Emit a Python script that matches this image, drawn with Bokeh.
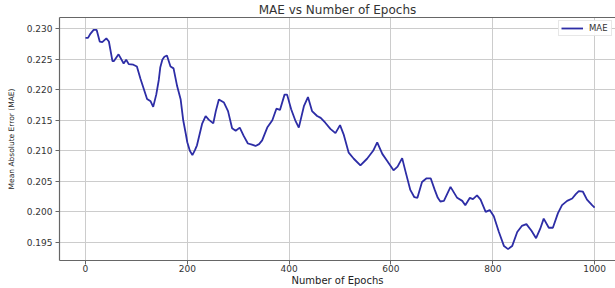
from bokeh.plotting import figure
from bokeh.models import (Range1d, FixedTicker, NumeralTickFormatter,
                          Legend, LegendItem, LinearAxis)
from bokeh.embed import file_html
from bokeh.resources import INLINE

# --- data ---
epochs = [0, 5, 10, 16, 22, 28, 33, 41, 46, 53, 56, 65, 75, 80, 85, 94, 101, 108,
          121, 128, 133, 139, 144, 147, 151, 155, 160, 167, 173, 180, 187, 192, 197,
          200, 205, 210, 215, 219, 229, 236, 242, 251, 256, 262, 272, 280, 288, 295,
          303, 311, 319, 327, 334, 341, 347, 357, 367, 375, 382, 391, 396, 404, 412,
          419, 429, 437, 445, 455, 462, 471, 481, 491, 500, 507, 517, 527, 540, 553,
          565, 573, 583, 592, 605, 613, 622, 628, 638, 646, 652, 661, 670, 678, 686,
          692, 697, 704, 717, 730, 740, 746, 755, 761, 769, 776, 786, 794, 802, 812,
          822, 830, 838, 848, 857, 866, 876, 885, 893, 900, 910, 918, 928, 936, 946,
          956, 963, 969, 977, 985, 995, 1000]
mae = [0.2285, 0.2285, 0.2292, 0.2298, 0.2298, 0.2279, 0.2278, 0.2284, 0.2279, 0.2247,
       0.2247, 0.2258, 0.2243, 0.2249, 0.2242, 0.2241, 0.2238, 0.2218, 0.2185, 0.2181,
       0.2172, 0.2192, 0.2216, 0.2237, 0.2249, 0.2254, 0.2256, 0.2238, 0.2235, 0.2206,
       0.2184, 0.2150, 0.2128, 0.2114, 0.2100, 0.2093, 0.2101, 0.2109, 0.2144, 0.2157,
       0.2151, 0.2145, 0.2165, 0.2184, 0.2179, 0.2165, 0.2137, 0.2133, 0.2138, 0.2124,
       0.2112, 0.2110, 0.2108, 0.2111, 0.2117, 0.2138, 0.2150, 0.2169, 0.2167, 0.2192,
       0.2192, 0.2168, 0.2150, 0.2138, 0.2173, 0.2188, 0.2165, 0.2157, 0.2154, 0.2146,
       0.2136, 0.2129, 0.2142, 0.2127, 0.2097, 0.2087, 0.2076, 0.2087, 0.2100, 0.2114,
       0.2095, 0.2084, 0.2068, 0.2074, 0.2088, 0.2068, 0.2036, 0.2024, 0.2023, 0.2049,
       0.2055, 0.2055, 0.2036, 0.2023, 0.2017, 0.2018, 0.2041, 0.2023, 0.2018, 0.2011,
       0.2023, 0.2021, 0.2027, 0.2020, 0.2000, 0.2003, 0.1993, 0.1967, 0.1944, 0.1939,
       0.1944, 0.1967, 0.1977, 0.1980, 0.1969, 0.1957, 0.1972, 0.1989, 0.1974, 0.1974,
       0.1998, 0.2011, 0.2018, 0.2022, 0.2029, 0.2034, 0.2033, 0.2020, 0.2011, 0.2007]
x_ticks = [0, 200, 400, 600, 800, 1000]
y_ticks = [0.195, 0.200, 0.205, 0.210, 0.215, 0.220, 0.225, 0.230]

FONT = "DejaVu Sans"
LINE_COLOR = "#2d2da6"
SPINE = "#666666"

W, H = 615, 288
p = figure(width=W, height=H, output_backend="svg", toolbar_location=None,
           title="MAE vs Number of Epochs",
           x_range=Range1d(-51, 1041), y_range=Range1d(0.19204, 0.23183),
           min_border_left=59, min_border_top=17, min_border_bottom=25,
           min_border_right=0)
p.outline_line_color = None
p.background_fill_color = "white"
p.border_fill_color = "white"

p.title.align = "center"
p.title.offset = 2
p.title.standoff = 1
p.title.text_font = FONT
p.title.text_font_size = "12px"
p.title.text_font_style = "normal"
p.title.text_color = "#333333"

r = p.line(epochs, mae, line_color=LINE_COLOR, line_width=1.8)

for ax in (p.xaxis[0], p.yaxis[0]):
    ax.axis_line_color = SPINE
    ax.axis_line_width = 1.2
    ax.major_tick_line_color = SPINE
    ax.major_tick_out = 4
    ax.major_tick_in = 0
    ax.minor_tick_out = 0
    ax.minor_tick_in = 0
    ax.major_label_text_font = FONT
    ax.major_label_text_color = "#333333"
    ax.axis_label_text_font = FONT
    ax.axis_label_text_font_style = "normal"
    ax.axis_label_text_color = "#222222"

p.xaxis[0].ticker = FixedTicker(ticks=x_ticks)
p.yaxis[0].ticker = FixedTicker(ticks=y_ticks)
p.yaxis[0].formatter = NumeralTickFormatter(format="0.000")
p.xaxis[0].major_label_text_font_size = "9px"
p.yaxis[0].major_label_text_font_size = "9px"
p.xaxis[0].major_label_standoff = 0
p.yaxis[0].major_label_standoff = 3

p.yaxis[0].axis_label = "Mean Absolute Error (MAE)"
p.yaxis[0].axis_label_text_font_size = "7.5px"
p.yaxis[0].axis_label_standoff = 8

p.xaxis[0].axis_label = "Number of Epochs"
p.xaxis[0].axis_label_text_font_size = "10px"
p.xaxis[0].axis_label_standoff = 0

# top spine
top = LinearAxis(ticker=FixedTicker(ticks=[]), major_tick_out=0, major_tick_in=0,
                 minor_tick_out=0, minor_tick_in=0, major_label_text_font_size="0px",
                 major_label_standoff=0, axis_line_color=SPINE, axis_line_width=1.2)
p.add_layout(top, "above")

p.xgrid.grid_line_color = "#cccccc"
p.ygrid.grid_line_color = "#cccccc"

legend = Legend(items=[LegendItem(label="MAE", renderers=[r])], location="top_right")
legend.margin = 3
legend.padding = 2
legend.spacing = 0
legend.glyph_width = 22
legend.glyph_height = 10
legend.label_standoff = 6
legend.label_text_font = FONT
legend.label_text_font_size = "8.5px"
legend.label_text_color = "#333333"
legend.border_line_color = "#d0d0d0"
legend.border_line_width = 1
legend.background_fill_alpha = 0.9
p.add_layout(legend)

open("out.html", "w").write(file_html(p, INLINE))
